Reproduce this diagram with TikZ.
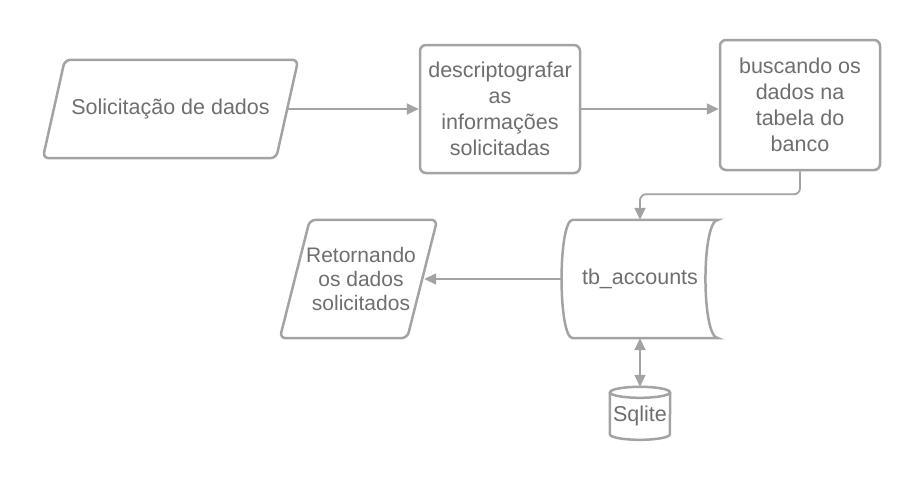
\documentclass[tikz,border=0pt]{standalone}
\usepackage{fontspec}
\setmainfont{Liberation Sans}
\usetikzlibrary{arrows.meta}
\definecolor{edgecol}{HTML}{A3A3A3}
\definecolor{txtcol}{HTML}{6E6E6E}
\begin{document}
\begin{tikzpicture}[x=1pt,y=-1pt,
  font=\fontsize{21.5}{26}\selectfont,
  outline/.style={draw=edgecol, line width=2.5pt, rounded corners=6pt},
  shapebox/.style={outline, text=txtcol, align=center, inner sep=2pt},
  procbox/.style={shapebox, rectangle, minimum width=160pt},
  plain/.style={text=txtcol, align=center, inner sep=0pt},
  conn/.style={draw=edgecol, line width=1.8pt, -{Triangle[length=12pt,width=11pt]}},
  dconn/.style={draw=edgecol, line width=1.8pt, {Triangle[length=12pt,width=11pt]}-{Triangle[length=12pt,width=11pt]}}
]
\useasboundingbox (0,0) rectangle (920,485);

% input parallelogram
\node (p1) [plain, minimum width=255pt, minimum height=98pt] at (170.5,109) {Solicitação de dados};
\draw[outline] ([xshift=22pt]p1.north west) -- (p1.north east)
  -- ([xshift=-22pt]p1.south east) -- (p1.south west) -- cycle;

% process boxes
\node (b2) [procbox, minimum height=128pt] at (500,109)
  {descriptografar\\as\\informações\\solicitadas};
\node (b3) [procbox, minimum height=130pt] at (800,105)
  {buscando os\\dados na\\tabela do\\banco};

% stored data
\node (tb) [plain, minimum width=156pt, minimum height=118pt] at (640,279) {tb\_accounts};
\draw[outline, rounded corners=0pt]
  ([xshift=11pt]tb.north west) -- (tb.north east)
  .. controls ([xshift=-17pt]tb.north east) and ([xshift=-17pt]tb.south east) .. (tb.south east)
  -- ([xshift=11pt]tb.south west)
  .. controls ([xshift=-4pt]tb.south west) and ([xshift=-4pt]tb.north west) .. ([xshift=11pt]tb.north west)
  -- cycle;

% output parallelogram
\node (p2) [plain, minimum width=157pt, minimum height=118pt,
  font=\fontsize{21}{24}\selectfont] at (361,279)
  {Retornando\\os dados\\solicitados};
\draw[outline] ([xshift=27.5pt]p2.north west) -- ([xshift=-2.5pt]p2.north east)
  -- ([xshift=-32.5pt]p2.south east) -- ([xshift=-2.5pt]p2.south west) -- cycle;

% database cylinder
\node (sq) [plain, minimum width=60pt, minimum height=47pt] at (640,416) {Sqlite};
\draw[outline, rounded corners=0pt]
  (sq.north west) -- ([yshift=-42pt]sq.north west)
  arc[start angle=180, end angle=360, x radius=30pt, y radius=5.5pt]
  -- (sq.north east);
\draw[outline, rounded corners=0pt] (sq.north) ellipse[x radius=30pt, y radius=5.5pt];

% connectors
\draw[conn] ([xshift=-11pt]p1.east) -- (b2.west);
\draw[conn] (b2.east) -- (b2.east -| b3.west);
\draw[conn, rounded corners=6pt] (b3.south) -- ++(0,23) -| (tb.north);
\draw[conn] (tb.west) -- ([xshift=-15.5pt]p2.east);
\draw[dconn] (tb.south) -- ([yshift=5.5pt]sq.north);
\end{tikzpicture}
\end{document}
